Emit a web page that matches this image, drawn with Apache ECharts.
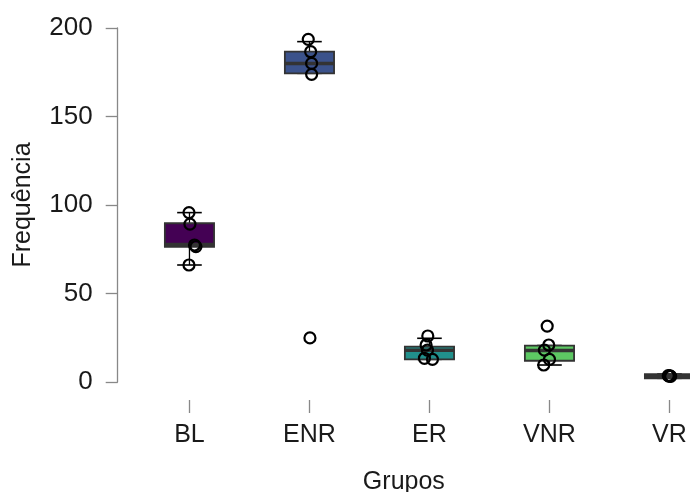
<!DOCTYPE html>
<html>
<head>
<meta charset="utf-8">
<script src="https://cdn.jsdelivr.net/npm/echarts@6/dist/echarts.min.js"></script>
<style>
html,body{margin:0;padding:0;background:#fff;}
#chart{width:690px;height:492px;}
</style>
</head>
<body>
<div id="chart"></div>
<script>
// ---- data ----
var categories = ['BL', 'ENR', 'ER', 'VNR', 'VR'];
var boxColors = ['#440154', '#3B528B', '#21908C', '#5DC863', '#FDE725'];
var yTicks = [0, 50, 100, 150, 200];

// box statistics: lower whisker, Q1, median, Q3, upper whisker
var whiskerLow = [66.1, 174.4, 12.8, 9.6, 2.1];
var q1         = [76.4, 174.4, 12.8, 12.0, 2.1];
var median     = [77.7, 180.0, 17.9, 17.8, 3.3];
var q3         = [89.7, 186.6, 20.0, 20.6, 4.5];
var whiskerHigh= [95.7, 192.3, 24.7, 20.6, 4.5];

// raw (jittered) points per group
var ptsBL  = [95.7, 89.2, 77.4, 76.5, 66.1];
var ptsENR = [193.6, 186.6, 180.0, 173.8, 24.9];
var ptsER  = [26.0, 20.9, 18.0, 13.4, 12.8];
var ptsVNR = [31.6, 20.9, 18.0, 12.8, 9.6];
var ptsVR  = [3.6, 3.4, 3.2, 3.4, 3.5];
// horizontal jitter of the points (category units)
var jitBL  = [-0.004, 0.004, 0.042, 0.054, -0.004];
var jitENR = [-0.010, 0.010, 0.018, 0.018, 0.004];
var jitER  = [-0.014, -0.028, -0.017, -0.042, 0.025];
var jitVNR = [-0.019, -0.006, -0.042, 0.000, -0.048];
var jitVR  = [-0.010, 0.000, 0.010, -0.005, 0.005];

var points = [ptsBL, ptsENR, ptsER, ptsVNR, ptsVR];
var jitters = [jitBL, jitENR, jitER, jitVNR, jitVR];

var boxData = categories.map(function (c, i) {
  return [i + 1, whiskerLow[i], q1[i], median[i], q3[i], whiskerHigh[i], i];
});
var pointData = [];
points.forEach(function (arr, i) {
  arr.forEach(function (v, j) { pointData.push([i + 1 + jitters[i][j], v]); });
});

var FONT = '"Liberation Sans", Arial, Helvetica, sans-serif';
var FS = 25;
var TXT = '#1a1a1a';
var chart = echarts.init(document.getElementById('chart'), null, {renderer: 'canvas'});

function renderBox(params, api) {
  var x = api.value(0);
  var lo = api.coord([x, api.value(1)]);
  var b1 = api.coord([x, api.value(2)]);
  var md = api.coord([x, api.value(3)]);
  var b3 = api.coord([x, api.value(4)]);
  var hi = api.coord([x, api.value(5)]);
  var w = api.size([0.41, 0])[0];
  var cx = lo[0];
  var sw = w / 2;
  var fill = boxColors[api.value(6)];
  return {
    type: 'group',
    children: [
      {type: 'line', shape: {x1: cx, y1: b1[1], x2: cx, y2: lo[1]}, style: {stroke: '#000', lineWidth: 1.3}},
      {type: 'line', shape: {x1: cx, y1: b3[1], x2: cx, y2: hi[1]}, style: {stroke: '#000', lineWidth: 1.3}},
      {type: 'line', shape: {x1: cx - sw / 2, y1: lo[1], x2: cx + sw / 2, y2: lo[1]}, style: {stroke: '#000', lineWidth: 1.6}},
      {type: 'line', shape: {x1: cx - sw / 2, y1: hi[1], x2: cx + sw / 2, y2: hi[1]}, style: {stroke: '#000', lineWidth: 1.6}},
      {type: 'rect', shape: {x: cx - w / 2, y: b3[1], width: w, height: b1[1] - b3[1]},
        style: {fill: fill, stroke: '#333', lineWidth: 1.8}},
      {type: 'line', shape: {x1: cx - w / 2, y1: md[1], x2: cx + w / 2, y2: md[1]}, style: {stroke: '#333', lineWidth: 3.5}}
    ]
  };
}

var XMIN = 0.402, XMAX = 5.171;

chart.setOption({
  backgroundColor: '#fff',
  animation: false,
  grid: [
    {left: 117.7, top: 28, bottom: 110, right: 0, containLabel: false, outerBoundsMode: 'none'},
    {left: 117.7, top: 28, bottom: 92, right: 0, containLabel: false, outerBoundsMode: 'none'}
  ],
  xAxis: [
    {
      type: 'value', gridIndex: 0, min: XMIN, max: XMAX, show: false,
      splitLine: {show: false}
    },
    {
      type: 'value', gridIndex: 1, min: XMIN, max: XMAX,
      axisLine: {show: false},
      splitLine: {show: false},
      axisTick: {show: true, customValues: [1, 2, 3, 4, 5], length: 13, lineStyle: {color: '#888', width: 1.3}},
      axisLabel: {
        customValues: [1, 2, 3, 4, 5],
        formatter: function (v) { return categories[Math.round(v) - 1] || ''; },
        fontSize: FS, color: TXT, fontFamily: FONT, margin: 23
      },
      name: 'Grupos',
      nameLocation: 'middle',
      nameGap: 70,
      nameTextStyle: {fontSize: FS, color: TXT, fontFamily: FONT}
    }
  ],
  yAxis: [
    {
      type: 'value', gridIndex: 0,
      min: 0, max: 200, interval: 50,
      axisLine: {show: true, lineStyle: {color: '#888', width: 1.3}},
      axisTick: {show: true, length: 12, lineStyle: {color: '#888', width: 1.3}},
      splitLine: {show: false},
      axisLabel: {
        customValues: yTicks,
        fontSize: 26, color: TXT, fontFamily: FONT, margin: 25
      },
      name: 'Frequência',
      nameLocation: 'middle',
      nameGap: 82,
      nameTextStyle: {fontSize: FS, color: TXT, fontFamily: FONT}
    },
    {
      type: 'value', gridIndex: 1, min: 0, max: 1, show: false, splitLine: {show: false}
    }
  ],
  series: [
    {
      type: 'custom',
      xAxisIndex: 0, yAxisIndex: 0,
      renderItem: renderBox,
      data: boxData,
      encode: {x: 0, y: [1, 2, 3, 4, 5]},
      clip: false,
      z: 2
    },
    {
      type: 'scatter',
      xAxisIndex: 0, yAxisIndex: 0,
      data: pointData,
      symbol: 'circle',
      symbolSize: 11,
      itemStyle: {color: 'rgba(0,0,0,0)', borderColor: '#000', borderWidth: 2.2, opacity: 1},
      clip: false,
      z: 3
    }
  ]
});
</script>
</body>
</html>
